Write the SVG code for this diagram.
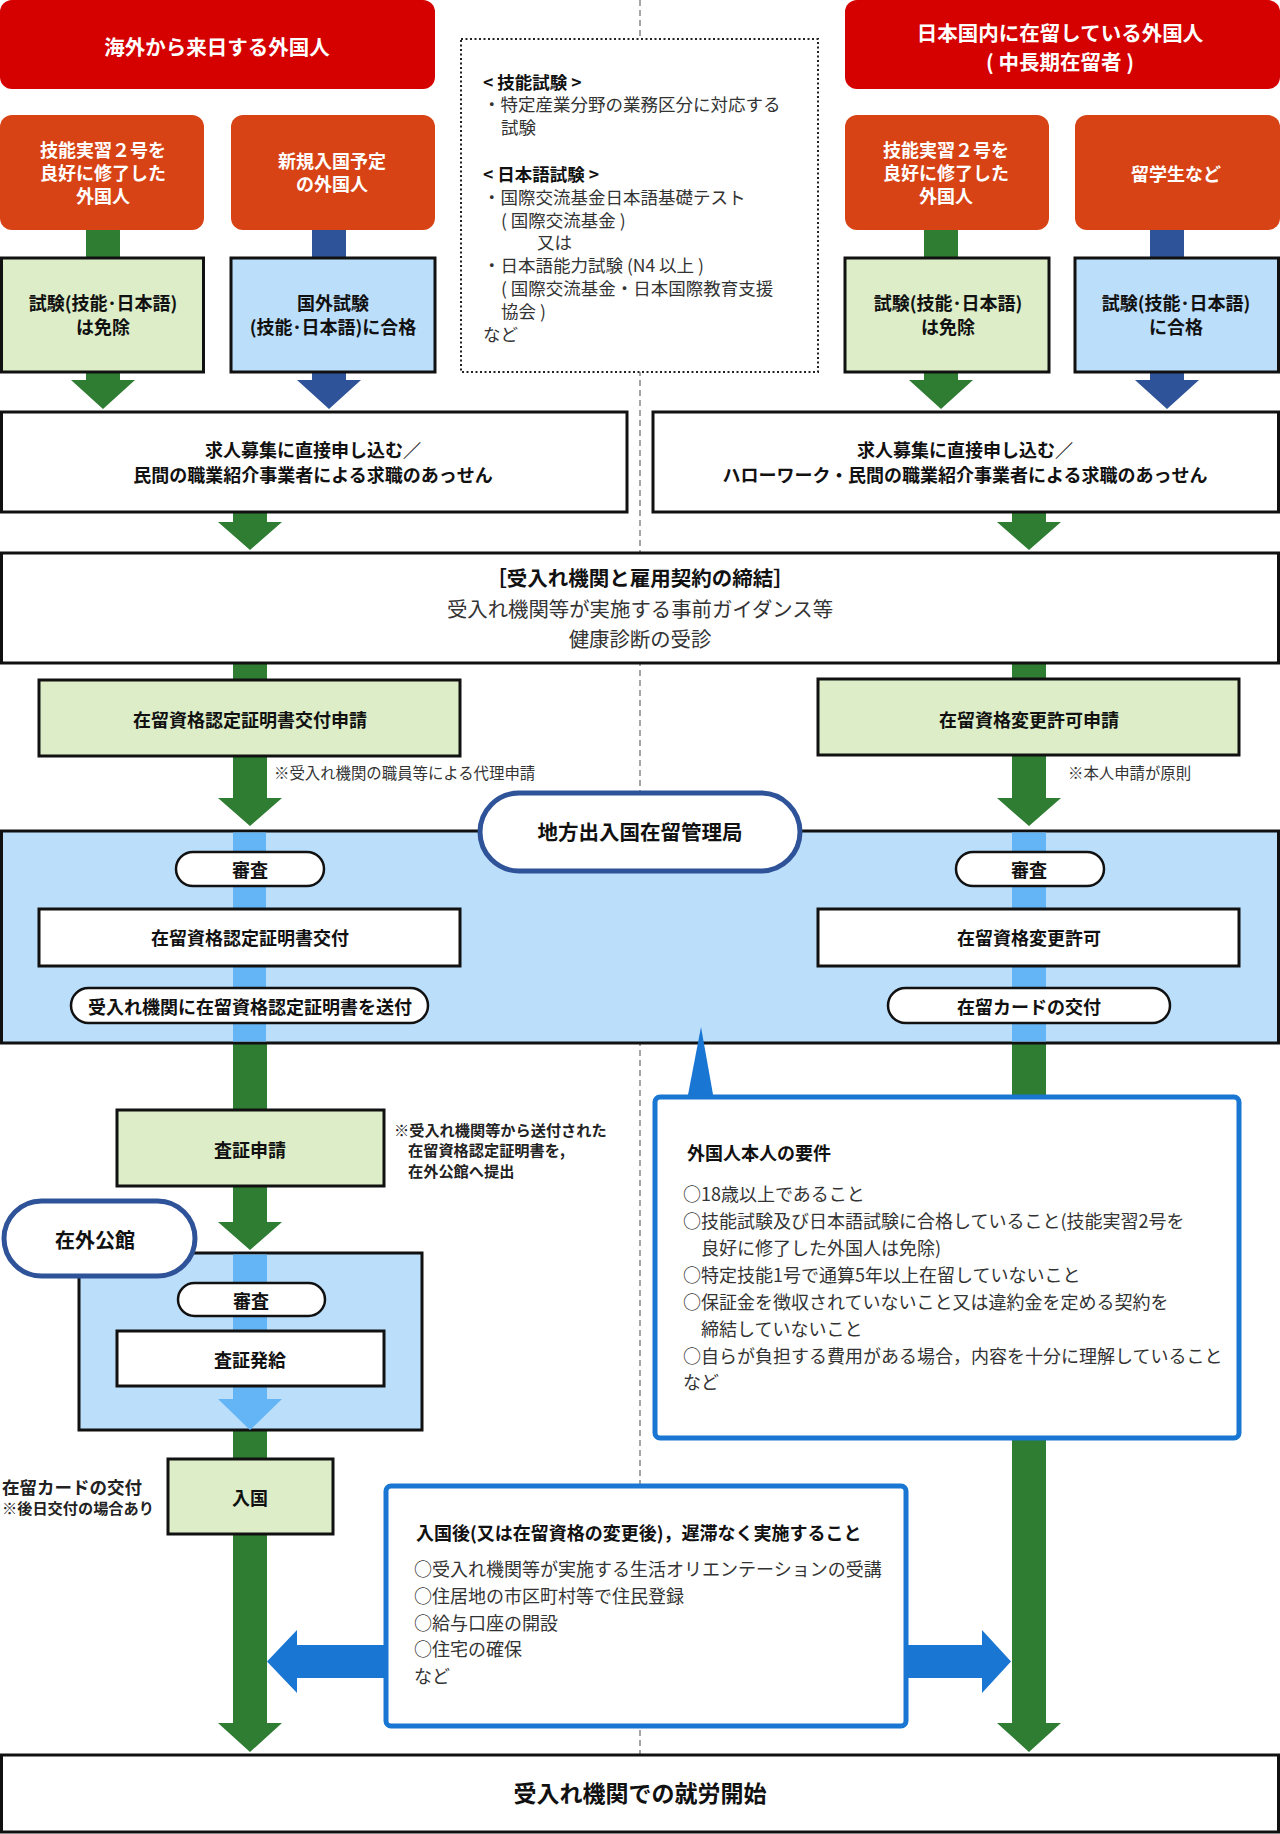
<svg xmlns="http://www.w3.org/2000/svg" width="1280" height="1834" viewBox="0 0 1280 1834">
<defs>
<style>
text{font-family:"Noto Sans CJK JP","Noto Sans",sans-serif;}
.title{font-size:20.5px;font-weight:bold;fill:#fff;text-anchor:middle;dominant-baseline:central}
.ow{font-size:18px;font-weight:bold;fill:#fff;text-anchor:middle;dominant-baseline:central}
.bc{font-size:18px;font-weight:bold;fill:#111;text-anchor:middle;dominant-baseline:central}
.bcl{font-size:20.5px;font-weight:bold;fill:#111;text-anchor:middle;dominant-baseline:central}
.rc{font-size:20.4px;fill:#333;text-anchor:middle;dominant-baseline:central}
.rl{font-size:17.5px;fill:#333;dominant-baseline:central}
.rlb{font-size:17.5px;font-weight:bold;fill:#111;dominant-baseline:central}
.rq{font-size:18px;fill:#333;dominant-baseline:central}
.bl{font-size:18px;font-weight:bold;fill:#111;dominant-baseline:central}
.note{font-size:15.4px;fill:#333;dominant-baseline:central}
.noteb{font-size:15.2px;font-weight:bold;fill:#222;dominant-baseline:central}
.noteb2{font-size:17.5px;font-weight:bold;fill:#222;dominant-baseline:central}
.big{font-size:23px;font-weight:bold;fill:#111;text-anchor:middle;dominant-baseline:central}
.red{fill:#d50000}
.orange{fill:#d84315}
.box{stroke:#111;stroke-width:3}
.lg{fill:#dcedc8}
.lb{fill:#bbdefb}
.wh{fill:#fff}
.green{fill:#2e7d32}
.navy{fill:#2f5399}
.sky{fill:#64b5f6}
.blue{fill:#1976d2}
.pill{fill:#fff;stroke:#111;stroke-width:2.5}
.bigpill{fill:#fff;stroke:#2f5399;stroke-width:5}
.callout{fill:#fff;stroke:#1976d2;stroke-width:5}
</style>
</defs>
<rect x="0" y="0" width="1280" height="1834" fill="#fff"/>
<line x1="640" y1="0" x2="640" y2="1755" stroke="#888" stroke-width="1.5" stroke-dasharray="6 4"/>

<g id="connectors">
<path class="green" d="M86 230H120V380H135L103 409L71 380H86Z"/>
<path class="navy" d="M312 230H346V380H361L329 409L297 380H312Z"/>
<path class="green" d="M924 230H958V380H973L941 409L909 380H924Z"/>
<path class="navy" d="M1150 230H1184V380H1199L1167 409L1135 380H1150Z"/>
<path class="green" d="M233 512H267V522H282L250 550L218 522H233Z"/>
<path class="green" d="M1012 512H1046V522H1061L1029 550L997 522H1012Z"/>
<path class="green" d="M233 663H267V798H282L250 826L218 798H233Z"/>
<path class="green" d="M1012 663H1046V798H1061L1029 826L997 798H1012Z"/>
<path class="green" d="M233 1043H267V1222H282L250 1250L218 1222H233Z"/>
<path class="green" d="M233 1430H267V1723H282L250 1752L218 1723H233Z"/>
<path class="green" d="M1012 1043H1046V1723H1061L1029 1752L997 1723H1012Z"/>
<path class="blue" d="M388 1645H297V1630L267 1661.5L297 1693V1678H388Z"/>
<path class="blue" d="M904 1645H982V1630L1011 1661.5L982 1693V1678H904Z"/>
</g>

<g id="n-top-left">
<rect class="red" x="0" y="0" width="435" height="89" rx="12"/>
<text class="title" x="217" y="46">海外から来日する外国人</text>
</g>
<g id="n-top-right">
<rect class="red" x="845" y="0" width="435" height="89" rx="12"/>
<text class="title" x="1060" y="32">日本国内に在留している外国人</text>
<text class="title" x="1060" y="61">( 中長期在留者 )</text>
</g>
<g id="n-o1">
<rect class="orange" x="0" y="115" width="204" height="115" rx="12"/>
<text class="ow" x="103" y="149">技能実習２号を</text>
<text class="ow" x="103" y="172">良好に修了した</text>
<text class="ow" x="103" y="195">外国人</text>
</g>
<g id="n-o2">
<rect class="orange" x="231" y="115" width="204" height="115" rx="12"/>
<text class="ow" x="332" y="160">新規入国予定</text>
<text class="ow" x="332" y="183">の外国人</text>
</g>
<g id="n-o3">
<rect class="orange" x="845" y="115" width="204" height="115" rx="12"/>
<text class="ow" x="946" y="149">技能実習２号を</text>
<text class="ow" x="946" y="172">良好に修了した</text>
<text class="ow" x="946" y="195">外国人</text>
</g>
<g id="n-o4">
<rect class="orange" x="1075" y="115" width="205" height="115" rx="12"/>
<text class="ow" x="1176" y="173">留学生など</text>
</g>
<g id="n-g1">
<rect class="lg box" x="1.5" y="258" width="202" height="114"/>
<text class="bc" x="103" y="302">試験(技能･日本語)</text>
<text class="bc" x="103" y="326">は免除</text>
</g>
<g id="n-b1">
<rect class="lb box" x="231" y="258" width="204" height="114"/>
<text class="bc" x="333" y="302">国外試験</text>
<text class="bc" x="333" y="326">(技能･日本語)に合格</text>
</g>
<g id="n-g2">
<rect class="lg box" x="845" y="258" width="204" height="114"/>
<text class="bc" x="948" y="302">試験(技能･日本語)</text>
<text class="bc" x="948" y="326">は免除</text>
</g>
<g id="n-b2">
<rect class="lb box" x="1075" y="258" width="203.5" height="114"/>
<text class="bc" x="1176" y="302">試験(技能･日本語)</text>
<text class="bc" x="1176" y="326">に合格</text>
</g>
<g id="n-exam-note">
<rect x="461" y="39" width="357" height="333" fill="#fff" stroke="#222" stroke-width="2" stroke-dasharray="2 2.5"/>
<text class="rlb" x="483" y="81">&lt; 技能試験 &gt;</text>
<text class="rl" x="483" y="103">・特定産業分野の業務区分に対応する</text>
<text class="rl" x="501" y="126">試験</text>
<text class="rlb" x="483" y="173">&lt; 日本語試験 &gt;</text>
<text class="rl" x="483" y="196">・国際交流基金日本語基礎テスト</text>
<text class="rl" x="501" y="219">( 国際交流基金 )</text>
<text class="rl" x="537" y="241">又は</text>
<text class="rl" x="483" y="264">・日本語能力試験 (N4 以上 )</text>
<text class="rl" x="501" y="287">( 国際交流基金・日本国際教育支援</text>
<text class="rl" x="501" y="310">協会 )</text>
<text class="rl" x="483" y="333">など</text>
</g>
<g id="n-job-left">
<rect class="wh box" x="1.5" y="412" width="625.5" height="100"/>
<text class="bc" x="313" y="449">求人募集に直接申し込む／</text>
<text class="bc" x="313" y="474">民間の職業紹介事業者による求職のあっせん</text>
</g>
<g id="n-job-right">
<rect class="wh box" x="653" y="412" width="625.5" height="100"/>
<text class="bc" x="965" y="449">求人募集に直接申し込む／</text>
<text class="bc" x="965" y="474">ハローワーク・民間の職業紹介事業者による求職のあっせん</text>
</g>
<g id="n-contract">
<rect class="wh box" x="1.5" y="553" width="1277" height="110"/>
<text class="bcl" x="640" y="577">［受入れ機関と雇用契約の締結］</text>
<text class="rc" x="640" y="608">受入れ機関等が実施する事前ガイダンス等</text>
<text class="rc" x="640" y="638">健康診断の受診</text>
</g>
<g id="n-coe-apply">
<rect class="lg box" x="39" y="680" width="421" height="76"/>
<text class="bc" x="250" y="719">在留資格認定証明書交付申請</text>
<text class="note" x="274" y="772">※受入れ機関の職員等による代理申請</text>
</g>
<g id="n-change-apply">
<rect class="lg box" x="818" y="679" width="421" height="76"/>
<text class="bc" x="1029" y="719">在留資格変更許可申請</text>
<text class="note" x="1068" y="772">※本人申請が原則</text>
</g>
<g id="n-bureau">
<rect class="lb box" x="1.5" y="831" width="1277" height="212"/>
<rect class="sky" x="233" y="832.5" width="33" height="209"/>
<rect class="sky" x="1012" y="832.5" width="34" height="209"/>
<rect class="pill" x="176" y="852" width="148" height="34" rx="17"/>
<text class="bc" x="250" y="869">審査</text>
<rect class="wh box" x="39" y="909" width="421" height="57"/>
<text class="bc" x="250" y="937">在留資格認定証明書交付</text>
<rect class="pill" x="71" y="988" width="357" height="35" rx="17.5"/>
<text class="bc" x="250" y="1006">受入れ機関に在留資格認定証明書を送付</text>
<rect class="pill" x="956" y="852" width="148" height="34" rx="17"/>
<text class="bc" x="1029" y="869">審査</text>
<rect class="wh box" x="818" y="909" width="421" height="57"/>
<text class="bc" x="1029" y="937">在留資格変更許可</text>
<rect class="pill" x="888" y="988" width="282" height="35" rx="17.5"/>
<text class="bc" x="1029" y="1006">在留カードの交付</text>
<rect class="bigpill" x="480" y="793" width="320" height="78" rx="39"/>
<text class="bcl" x="640" y="831">地方出入国在留管理局</text>
</g>
<g id="n-visa-apply">
<rect class="lg box" x="117" y="1110" width="267" height="76"/>
<text class="bc" x="250" y="1149">査証申請</text>
<text class="noteb" x="394" y="1129">※受入れ機関等から送付された</text>
<text class="noteb" x="408" y="1149">在留資格認定証明書を,</text>
<text class="noteb" x="408" y="1170">在外公館へ提出</text>
</g>
<g id="n-embassy">
<rect class="lb box" x="79" y="1253" width="343" height="177"/>
<path class="sky" d="M233 1254.5H267V1399H282L250 1430L218 1399H233Z"/>
<rect class="pill" x="178" y="1283" width="147" height="33" rx="16.5"/>
<text class="bc" x="251" y="1300">審査</text>
<rect class="wh box" x="117" y="1331" width="267" height="55"/>
<text class="bc" x="250" y="1359">査証発給</text>
<rect class="bigpill" x="4" y="1201" width="191" height="75" rx="37.5"/>
<text class="bcl" x="95" y="1239" style="font-size:20px">在外公館</text>
</g>
<g id="n-entry">
<rect class="lg box" x="168" y="1459" width="165" height="75"/>
<text class="bc" x="250" y="1497">入国</text>
<text class="noteb2" x="2" y="1486">在留カードの交付</text>
<text class="noteb" x="2" y="1507">※後日交付の場合あり</text>
</g>
<g id="n-requirements">
<path class="blue" d="M687 1100L701 1027L714 1100Z"/>
<rect class="callout" x="655" y="1097" width="584" height="341" rx="5"/>
<text class="bl" x="687" y="1152">外国人本人の要件</text>
<text class="rq" x="683" y="1193">○18歳以上であること</text>
<text class="rq" x="683" y="1220">○技能試験及び日本語試験に合格していること(技能実習2号を</text>
<text class="rq" x="701" y="1247">良好に修了した外国人は免除)</text>
<text class="rq" x="683" y="1274">○特定技能1号で通算5年以上在留していないこと</text>
<text class="rq" x="683" y="1301">○保証金を徴収されていないこと又は違約金を定める契約を</text>
<text class="rq" x="701" y="1328">締結していないこと</text>
<text class="rq" x="683" y="1355">○自らが負担する費用がある場合，内容を十分に理解していること</text>
<text class="rq" x="683" y="1381">など</text>
</g>
<g id="n-after-entry">
<rect class="callout" x="386" y="1486" width="520" height="240" rx="5"/>
<text class="bl" x="416" y="1532">入国後(又は在留資格の変更後)，遅滞なく実施すること</text>
<text class="rq" x="414" y="1568">○受入れ機関等が実施する生活オリエンテーションの受講</text>
<text class="rq" x="414" y="1595">○住居地の市区町村等で住民登録</text>
<text class="rq" x="414" y="1622">○給与口座の開設</text>
<text class="rq" x="414" y="1648">○住宅の確保</text>
<text class="rq" x="414" y="1675">など</text>
</g>
<g id="n-start">
<rect class="wh box" x="1.5" y="1755" width="1277" height="77"/>
<text class="big" x="640" y="1792">受入れ機関での就労開始</text>
</g>
</svg>
